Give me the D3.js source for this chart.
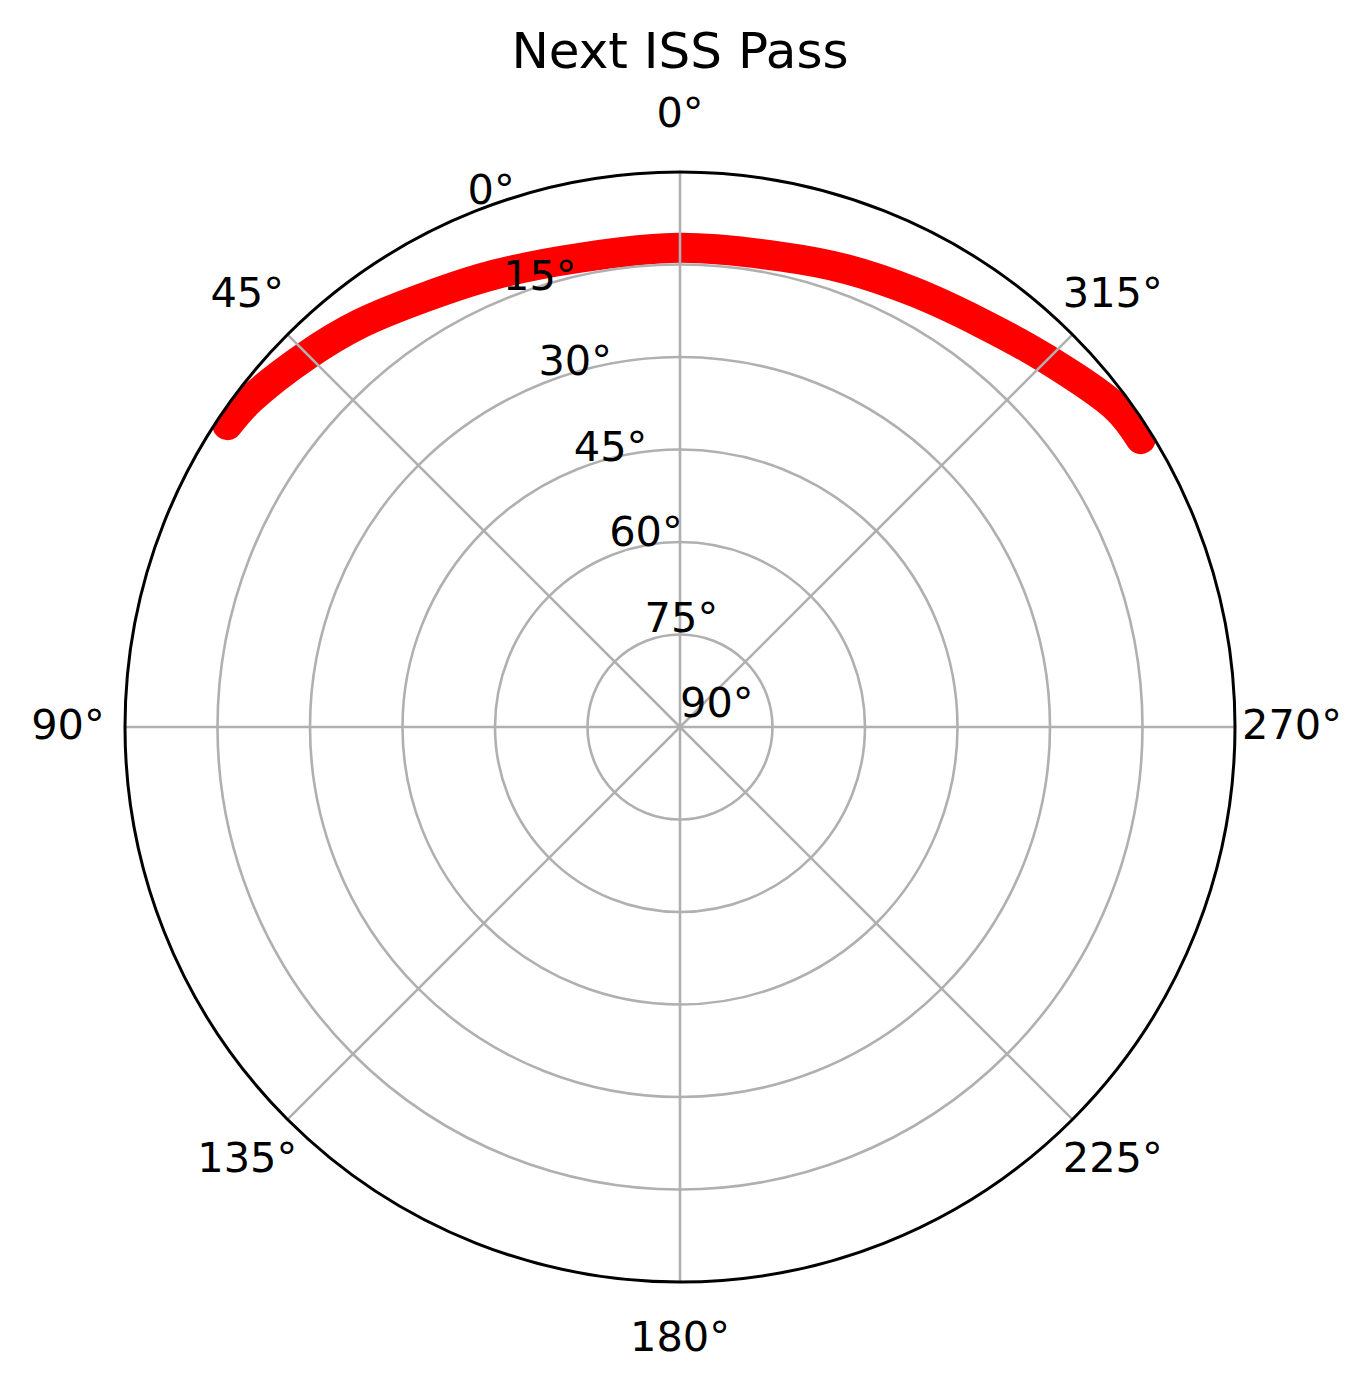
<!DOCTYPE html>
<html>
<head>
<meta charset="utf-8">
<script src="https://cdn.jsdelivr.net/npm/d3@7"></script>
<style>
  html, body { margin: 0; padding: 0; background: #ffffff; }
  svg { display: block; }
  text { font-family: "DejaVu Sans", sans-serif; fill: #000; }
</style>
</head>
<body>
<script>
// ---- data ----
const passAzimuth   = [56.3, 52.7, 45.1, 38.5, 30.5, 22.4, 12.0, 0.0,  348.0, 340.0, 331.8, 323.4, 315.2, 306.1, 302.0];
const passElevation = [1.8,  2.4,  4.6,  6.5,  9.0,  10.7, 12.2, 12.3, 12.0,  11.0,  9.9,   8.3,   5.8,   2.3,   1.9];
const thetaTicks = [0, 45, 90, 135, 180, 225, 270, 315];
const thetaTickLabels = ["0°", "45°", "90°", "135°", "180°", "225°", "270°", "315°"];
const radialTicks = [0, 15, 30, 45, 60, 75, 90];
const radialTickLabels = ["0°", "15°", "30°", "45°", "60°", "75°", "90°"];
const gridCircles = [15, 30, 45, 60, 75];
const titleText = "Next ISS Pass";

// ---- layout ----
const W = 1372, H = 1390;
const cx = 680, cy = 727, R = 555;
const tickFont = 41.5, titleFont = 50;
const rad = d => d * Math.PI / 180;

const svg = d3.select("body").append("svg").attr("width", W).attr("height", H);

const r = d3.scaleLinear().domain([90, 0]).range([0, R]);
// azimuth measured counter-clockwise from north
const px = (az, rr) => cx - rr * Math.sin(rad(az));
const py = (az, rr) => cy - rr * Math.cos(rad(az));

svg.append("defs").append("clipPath").attr("id", "polarClip")
  .append("circle").attr("cx", cx).attr("cy", cy).attr("r", R);

const g = svg.append("g");

// data line (clipped to the polar area)
const pts = passAzimuth.map((a, i) => ({ az: a > 180 ? a - 360 : a, el: passElevation[i] }));
const lineGen = d3.lineRadial()
  .angle(d => -rad(d.az))
  .radius(d => r(d.el))
  .curve(d3.curveCatmullRom.alpha(0.5));

g.append("g").attr("clip-path", "url(#polarClip)")
  .append("path")
  .attr("transform", `translate(${cx},${cy})`)
  .attr("d", lineGen(pts))
  .attr("fill", "none")
  .attr("stroke", "#ff0000")
  .attr("stroke-width", 30)
  .attr("stroke-linecap", "round")
  .attr("stroke-linejoin", "round");

// grid circles
g.selectAll("circle.grid").data(gridCircles).join("circle")
  .attr("class", "grid")
  .attr("cx", cx).attr("cy", cy)
  .attr("r", d => r(d))
  .attr("fill", "none")
  .attr("stroke", "#b0b0b0")
  .attr("stroke-width", 2.6);

// spokes
g.selectAll("line.spoke").data(thetaTicks).join("line")
  .attr("class", "spoke")
  .attr("x1", cx).attr("y1", cy)
  .attr("x2", d => px(d, R)).attr("y2", d => py(d, R))
  .attr("stroke", "#b0b0b0")
  .attr("stroke-width", 2.6);

// outer spine
g.append("circle")
  .attr("cx", cx).attr("cy", cy).attr("r", R)
  .attr("fill", "none")
  .attr("stroke", "#000")
  .attr("stroke-width", 3);

// theta labels
const labelR = R + 57;
g.selectAll("text.theta").data(thetaTicks).join("text")
  .attr("class", "theta")
  .attr("x", d => px(d, labelR))
  .attr("y", d => py(d, labelR) + 0.3 * tickFont)
  .attr("text-anchor", "middle")
  .attr("font-size", tickFont)
  .text((d, i) => thetaTickLabels[i]);

// radial labels at 22.5 deg
const rlabelAngle = 22.5;
g.selectAll("text.rlab").data(radialTicks).join("text")
  .attr("class", "rlab")
  .attr("x", d => px(rlabelAngle, r(d)))
  .attr("y", d => py(rlabelAngle, r(d)) - 0.236 * tickFont)
  .attr("text-anchor", "start")
  .attr("font-size", tickFont)
  .text((d, i) => radialTickLabels[i]);

// title
svg.append("text")
  .attr("x", cx).attr("y", 68)
  .attr("text-anchor", "middle")
  .attr("font-size", titleFont)
  .text(titleText);
</script>
</body>
</html>
